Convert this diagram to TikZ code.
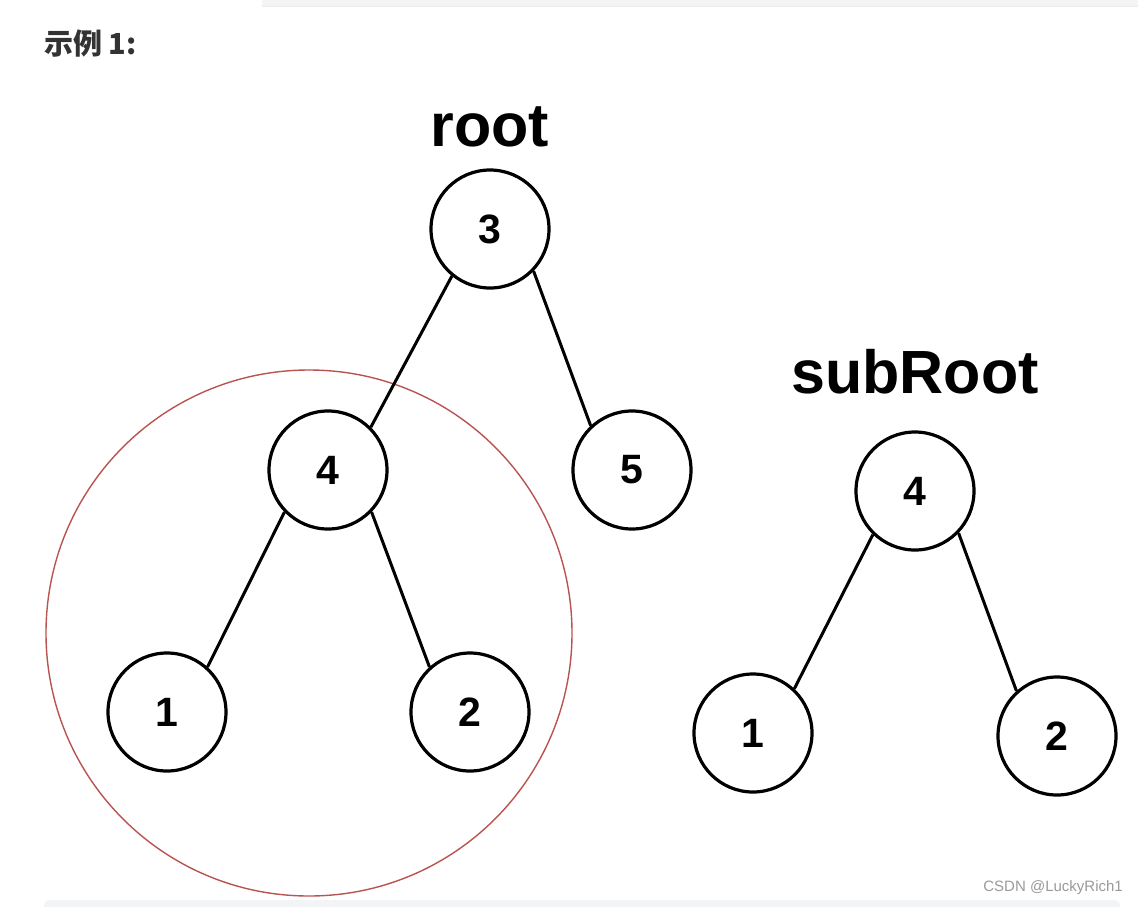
\documentclass[tikz,border=0pt]{standalone}
\usepackage{fontspec}
\setmainfont{Liberation Sans}
\newfontfamily\cjk{Noto Sans CJK SC}
\definecolor{redline}{HTML}{B85450}
\definecolor{titlegray}{HTML}{333333}
\definecolor{stripfill}{HTML}{F3F4F6}
\definecolor{stripline}{HTML}{ECECEC}
\definecolor{wmgray}{HTML}{999999}
\begin{document}
\begin{tikzpicture}[x=1pt,y=-1pt,
  tnode/.style={circle,draw=black,line width=3.2pt,minimum size=118pt,inner sep=0pt,
    font=\fontsize{41}{41}\selectfont\bfseries},
  edge/.style={line width=3pt,black},
  lbl/.style={font=\fontsize{61}{61}\selectfont\bfseries,inner sep=0pt}]
\useasboundingbox (0,0) rectangle (1138,906);
% top strip
\fill[stripfill] (262,-2) rectangle (1140,6);
\draw[stripline,line width=1pt] (262,6) -- (1140,6);
% bottom strip
\fill[stripfill,rounded corners=6pt] (44,900) rectangle (1120,920);
% title
\node[anchor=west,inner sep=0pt,text=titlegray] (title) at (44,44)
  {\cjk\bfseries\fontsize{29}{29}\selectfont 示例 1:};
% labels
\node[lbl] (rootlbl) at (490,127) {root};
\node[lbl] (sublbl) at (915,372) {subRoot};
% red circle
\node[circle,draw=redline,line width=1.4pt,minimum size=526pt,inner sep=0pt] (ring) at (309,633) {};
% tree
\node[tnode] (n3) at (490,229) {3};
\node[tnode] (n4) at (328,470) {4};
\node[tnode] (n5) at (632,470) {5};
\node[tnode] (n1) at (167,712) {1};
\node[tnode] (n2) at (470,712) {2};
\node[tnode] (s4) at (915,491) {4};
\node[tnode] (s1) at (753,733) {1};
\node[tnode] (s2) at (1057,736) {2};
\draw[edge] (n3.231) -- (n4.45);
\draw[edge] (n3.-44) -- (n5.133);
\draw[edge] (n4.224) -- (n1.48);
\draw[edge] (n4.-44) -- (n2.132);
\draw[edge] (s4.226) -- (s1.47);
\draw[edge] (s4.-44) -- (s2.132);
% watermark
\node[anchor=east,inner sep=0pt,text=wmgray,font=\fontsize{15}{15}\selectfont] (wm) at (1123,888) {CSDN @LuckyRich1};
\end{tikzpicture}
\end{document}
